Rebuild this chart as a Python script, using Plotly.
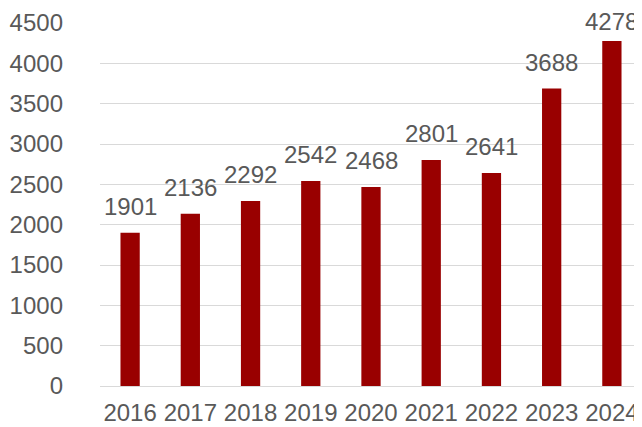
import plotly.graph_objects as go

years = [2016, 2017, 2018, 2019, 2020, 2021, 2022, 2023, 2024]
values = [1901, 2136, 2292, 2542, 2468, 2801, 2641, 3688, 4278]
y_ticks = [0, 500, 1000, 1500, 2000, 2500, 3000, 3500, 4000, 4500]

bar_color = "#990000"
text_color = "#595959"
font_family = "Liberation Sans, Arial, sans-serif"

fig = go.Figure()
fig.add_trace(go.Bar(
    x=years,
    y=values,
    marker=dict(color=bar_color, line=dict(width=0)),
    width=0.32,
    hoverinfo="skip",
))

# value labels above each bar (the tallest one sits a bit lower so it fits)
for yr, v in zip(years, values):
    fig.add_annotation(
        x=yr, y=v, text=str(v), showarrow=False,
        yanchor="bottom", yshift=4 if v == max(values) else 11,
        font=dict(size=24, color=text_color, family=font_family),
    )

# page body has an 8px margin, so the figure is a bit smaller than the window
fig.update_layout(
    width=634,
    height=419,
    margin=dict(l=92, r=0, t=15, b=41),
    plot_bgcolor="white",
    paper_bgcolor="white",
    showlegend=False,
    font=dict(family=font_family, size=24, color=text_color),
)
fig.update_xaxes(
    type="linear",
    range=[years[0] - 0.5, years[-1] + 0.5],
    tickmode="array",
    tickvals=years,
    ticktext=[str(y) for y in years],
    showgrid=False,
    zeroline=False,
    showline=False,
    ticks="",
    automargin=False,
    tickfont=dict(size=24, color=text_color),
    ticklabelstandoff=10,
)
fig.update_yaxes(
    range=[0, 4500],
    tickvals=y_ticks,
    showgrid=True,
    gridcolor="#d9d9d9",
    gridwidth=1,
    zeroline=True,
    zerolinecolor="#d9d9d9",
    zerolinewidth=1,
    showline=False,
    ticks="",
    automargin=False,
    tickfont=dict(size=24, color=text_color),
    ticklabelstandoff=36,
)

fig.write_html("out.html")
